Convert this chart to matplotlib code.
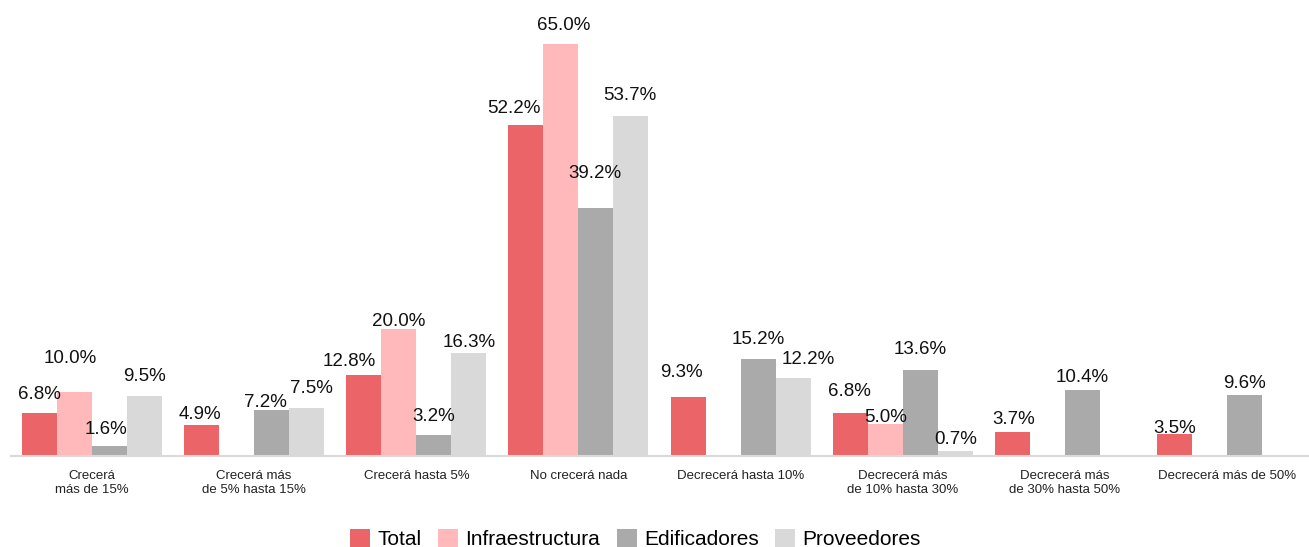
import numpy as np
import matplotlib.pyplot as plt

# ─────────────────────────────────────────────────────────────────────────────
# Datos
# ─────────────────────────────────────────────────────────────────────────────
categorias = [
    "Crecerá\nmás de 15%",
    "Crecerá más\nde 5% hasta 15%",
    "Crecerá hasta 5%",
    "No crecerá nada",
    "Decrecerá hasta 10%",
    "Decrecerá más\nde 10% hasta 30%",
    "Decrecerá más\nde 30% hasta 50%",
    "Decrecerá más de 50%",
]
series = ["Total", "Infraestructura", "Edificadores", "Proveedores"]

total           = [6.8, 4.9, 12.8, 52.2, 9.3, 6.8, 3.7, 3.5]
infraestructura = [10.0, 0.0, 20.0, 65.0, 0.0, 5.0, 0.0, 0.0]
edificadores    = [1.6, 7.2, 3.2, 39.2, 15.2, 13.6, 10.4, 9.6]
proveedores     = [9.5, 7.5, 16.3, 53.7, 12.2, 0.7, 0.0, 0.0]

valores = [total, infraestructura, edificadores, proveedores]
colores = ["#EB6467", "#FFB9BA", "#AAAAAA", "#D9D9D9"]

# desplazamiento de cada etiqueta (px) respecto al tope de su barra: (dx, dy)
desp_x = [
    [0, -4, -4, 0],
    [-2, 0, -6, 5],
    [-15, 0, 0, 0],
    [-12, 3, -1, -1],
    [-7, 0, 0, 15],
    [-1, 0, 0, 0],
    [1, 0, 0, 0],
    [0, 0, 0, 0],
]
desp_y = [
    [20, 36, 18, 21],
    [12, 0, 10, 22],
    [15, 10, 21, 12],
    [19, 21, 36, 22],
    [26, 0, 22, 21],
    [23, 9, 22, 14],
    [15, 0, 14, 0],
    [7, 0, 13, 0],
]

# ─────────────────────────────────────────────────────────────────────────────
# Gráfico
# ─────────────────────────────────────────────────────────────────────────────
plt.rcParams['font.family'] = ['Liberation Sans', 'DejaVu Sans']

fig = plt.figure(figsize=(13.09, 5.47), dpi=100)
ax = fig.add_axes([11 / 1309, 0.1669, 1297 / 1309, 0.81])

x = np.arange(len(categorias))
ancho = 0.216
offsets = (np.arange(len(series)) - 1.5) * ancho

for s, (nombre, vals, color) in enumerate(zip(series, valores, colores)):
    ax.bar(x + offsets[s], vals, width=ancho, color=color, label=nombre, zorder=1)
    for c, v in enumerate(vals):
        if v == 0:
            continue
        ax.annotate(f"{v:.1f}%", xy=(x[c] + offsets[s], v),
                    xytext=(desp_x[c][s], desp_y[c][s] - 6.5),
                    textcoords='offset pixels', ha='center', va='baseline',
                    fontsize=13.5, color='#111111')

ax.set_xlim(-0.5, 7.5)
ax.set_ylim(0, 70)
ax.set_xticks(x)
ax.set_xticklabels(categorias, fontsize=9.5, linespacing=1.3, color='#222222')
ax.tick_params(axis='x', length=0, pad=10)
ax.set_yticks([])

for lado in ['top', 'left', 'right']:
    ax.spines[lado].set_visible(False)
ax.spines['bottom'].set_color('#D9D9D9')
ax.spines['bottom'].set_linewidth(1.5)

fig.legend(loc='center', bbox_to_anchor=(0.4855, 8 / 547), ncol=4,
           frameon=False, fontsize=15, handlelength=0.96, handleheight=0.96,
           handletextpad=0.35, columnspacing=0.8, borderaxespad=0,
           borderpad=0)

plt.savefig('out.png', dpi=100)
